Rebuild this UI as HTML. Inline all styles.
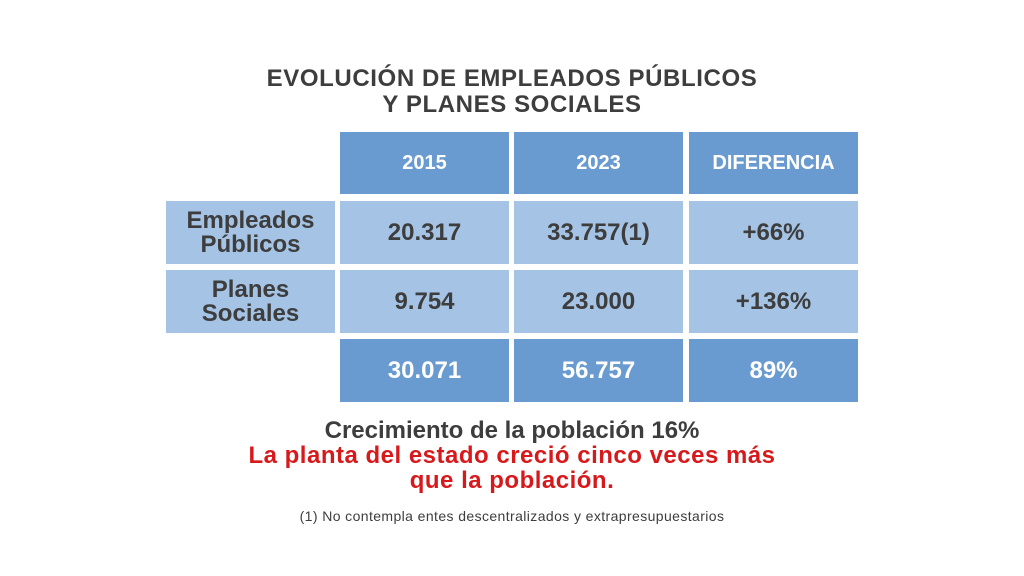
<!DOCTYPE html>
<html><head><meta charset="utf-8"><style>
body{margin:0;width:1024px;height:576px;background:#fff;position:relative;font-family:"Liberation Sans",sans-serif;font-weight:bold;color:#3d3d3d;overflow:hidden}
.c{position:absolute;display:flex;align-items:center;justify-content:center;text-align:center}
.d{background:#6a9bd0;color:#fff;font-size:20px}
.l{background:#a5c3e5;font-size:24px}
.t{position:absolute;left:0;width:1024px;text-align:center}
</style></head><body>
<div class="t" style="top:66px;font-size:24px;line-height:26px;letter-spacing:0.6px">EVOLUCIÓN DE EMPLEADOS PÚBLICOS<br>Y PLANES SOCIALES</div>
<div class="c d" style="left:340px;top:132px;width:169px;height:62px">2015</div>
<div class="c d" style="left:514px;top:132px;width:169px;height:62px">2023</div>
<div class="c d" style="left:689px;top:132px;width:169px;height:62px">DIFERENCIA</div>
<div class="c l" style="left:166px;top:201px;width:169px;height:63px;line-height:24px">Empleados<br>Públicos</div>
<div class="c l" style="left:340px;top:201px;width:169px;height:63px">20.317</div>
<div class="c l" style="left:514px;top:201px;width:169px;height:63px">33.757(1)</div>
<div class="c l" style="left:689px;top:201px;width:169px;height:63px">+66%</div>
<div class="c l" style="left:166px;top:270px;width:169px;height:63px;line-height:24px">Planes<br>Sociales</div>
<div class="c l" style="left:340px;top:270px;width:169px;height:63px">9.754</div>
<div class="c l" style="left:514px;top:270px;width:169px;height:63px">23.000</div>
<div class="c l" style="left:689px;top:270px;width:169px;height:63px">+136%</div>
<div class="c d" style="left:340px;top:339px;width:169px;height:63px;font-size:24px">30.071</div>
<div class="c d" style="left:514px;top:339px;width:169px;height:63px;font-size:24px">56.757</div>
<div class="c d" style="left:689px;top:339px;width:169px;height:63px;font-size:24px">89%</div>
<div class="t" style="top:418px;font-size:24px;line-height:26px">Crecimiento de la población 16%</div>
<div class="t" style="top:443px;font-size:24px;line-height:25px;color:#d7191c;letter-spacing:0.5px">La planta del estado creció cinco veces más<br>que la población.</div>
<div class="t" style="top:508px;font-size:14px;font-weight:normal;letter-spacing:0.4px">(1) No contempla entes descentralizados y extrapresupuestarios</div>
</body></html>
